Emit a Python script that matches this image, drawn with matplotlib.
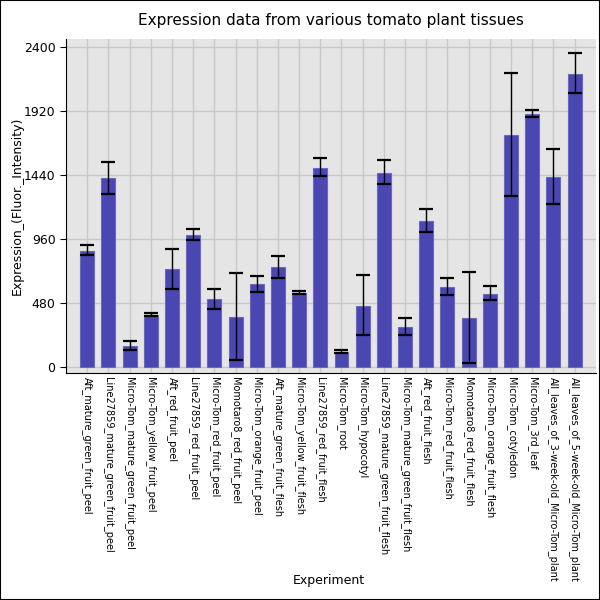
import numpy as np
import matplotlib
matplotlib.use("Agg")
import matplotlib.pyplot as plt


# =========================
# DATOS
# =========================
experiments = [
    "Aft_mature_green_fruit_peel",
    "Line27859_mature_green_fruit_peel",
    "Micro-Tom_mature_green_fruit_peel",
    "Micro-Tom_yellow_fruit_peel",
    "Aft_red_fruit_peel",
    "Line27859_red_fruit_peel",
    "Micro-Tom_red_fruit_peel",
    "Momotaro8_red_fruit_peel",
    "Micro-Tom_orange_fruit_peel",
    "Aft_mature_green_fruit_flesh",
    "Micro-Tom_yellow_fruit_flesh",
    "Line27859_red_fruit_flesh",
    "Micro-Tom_root",
    "Micro-Tom_hypocotyl",
    "Line27859_mature_green_fruit_flesh",
    "Micro-Tom_mature_green_fruit_flesh",
    "Aft_red_fruit_flesh",
    "Micro-Tom_red_fruit_flesh",
    "Momotaro8_red_fruit_flesh",
    "Micro-Tom_orange_fruit_flesh",
    "Micro-Tom_cotyledon",
    "Micro-Tom_3rd_leaf",
    "All_leaves_of_3-week-old_Micro-Tom_plant",
    "All_leaves_of_5-week-old_Micro-Tom_plant",
]

expression = [869, 1418, 155, 388, 734, 987, 509, 373, 621, 749, 556, 1493,
              110, 456, 1455, 298, 1095, 599, 366, 546, 1741, 1899, 1425, 2199]
err_low = [839, 1300, 125, 381, 584, 952, 438, 50, 564, 669, 551, 1433,
           105, 238, 1373, 238, 1010, 539, 30, 499, 1283, 1874, 1227, 2059]
err_high = [914, 1536, 193, 406, 889, 1035, 584, 704, 681, 834, 569, 1571,
            125, 689, 1553, 371, 1185, 664, 711, 604, 2204, 1931, 1636, 2360]

y_ticks = [0, 480, 960, 1440, 1920, 2400]


# =========================
# GRAFICO
# =========================
expression = np.array(expression)
yerr = [expression - np.array(err_low), np.array(err_high) - expression]
x = np.arange(len(experiments))

fig = plt.figure(figsize=(6, 6), dpi=100)
ax = fig.add_axes([0.11, 0.378, 0.883, 0.557])
ax.set_facecolor("#e5e5e5")

ax.bar(x, expression, width=0.66, color="#4a46b2", edgecolor="#6b68c2",
       linewidth=0.8, zorder=2)
ax.errorbar(x, expression, yerr=yerr, fmt="none", ecolor="black",
            elinewidth=1.0, capsize=5, capthick=1.6, zorder=3)

ax.set_xlim(-1, len(experiments))
ax.set_ylim(-47, 2462)
ax.set_yticks(y_ticks)
ax.set_xticks(x)
ax.set_xticklabels(experiments, rotation=270, fontsize=7)
ax.tick_params(axis="x", length=0, pad=3)
ax.tick_params(axis="y", labelsize=9, length=4)

ax.grid(True, color="#c8c8c8", linewidth=1.0, zorder=0)
ax.set_axisbelow(True)
for s in ["top", "right"]:
    ax.spines[s].set_visible(False)

ax.set_title("Expression data from various tomato plant tissues", fontsize=11, pad=10)
ax.set_ylabel("Expression_(Fluor._Intensity)", fontsize=9, labelpad=0)
fig.text(0.548, 0.026, "Experiment", ha="center", fontsize=9)

# borde de la figura
fig.patches.append(plt.Rectangle((0, 0), 1, 1, transform=fig.transFigure,
                                 fill=False, edgecolor="black", linewidth=1.5))

fig.savefig("out.png", dpi=100)
